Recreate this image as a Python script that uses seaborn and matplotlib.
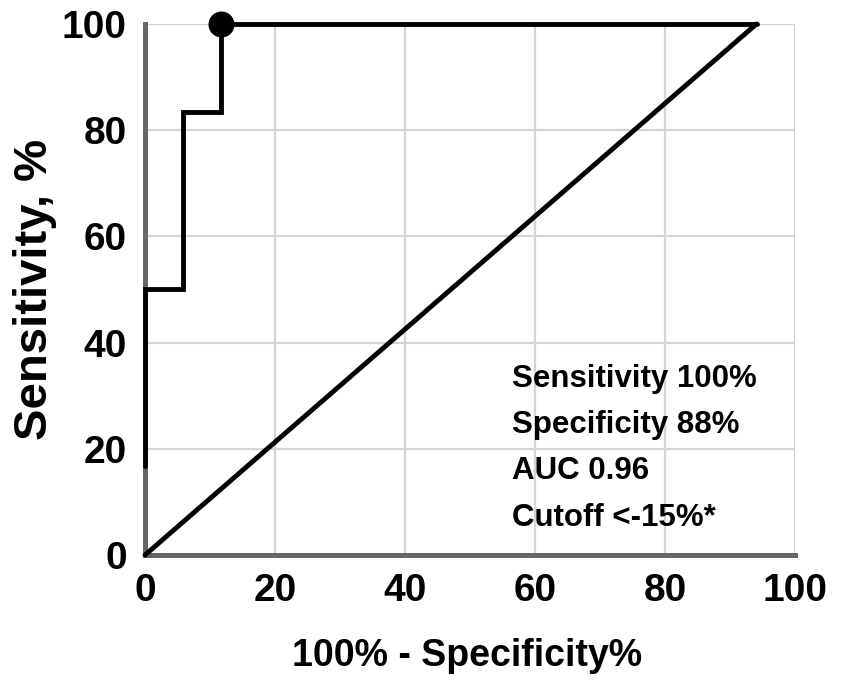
import matplotlib
matplotlib.use("Agg")
import matplotlib.pyplot as plt
import seaborn as sns
import pandas as pd

# ROC step curve (100% - specificity, sensitivity)
fpr = [0, 0, 0, 5.88, 5.88, 11.76, 11.76, 94.1]
tpr = [16.67, 33.33, 50, 50, 83.33, 83.33, 100, 100]

# reference (chance) line
ref_x = [0, 94.1]
ref_y = [0, 100]

# optimal cutoff point
cut_x = [11.76]
cut_y = [100]

stats_lines = ["Sensitivity 100%", "Specificity 88%", "AUC 0.96", "Cutoff <-15%*"]
ticks = [0, 20, 40, 60, 80, 100]

sns.set_theme(style="white")
plt.rcParams.update({
    "text.color": "black",
    "axes.labelcolor": "black",
    "xtick.labelcolor": "black",
    "ytick.labelcolor": "black",
})
font = ["Liberation Sans", "DejaVu Sans"]

fig = plt.figure(figsize=(8.44, 6.8), dpi=100)
ax = fig.add_axes([0.1718, 0.1838, 0.770, 0.781])

roc = pd.DataFrame({"fpr": fpr, "tpr": tpr})
ref = pd.DataFrame({"x": ref_x, "y": ref_y})
sns.lineplot(data=ref, x="x", y="y", ax=ax, color="black", lw=3.5,
             sort=False, estimator=None, zorder=4)
sns.lineplot(data=roc, x="fpr", y="tpr", ax=ax, color="black", lw=3.5,
             sort=False, estimator=None, zorder=5)
ax.lines[-1].set_solid_joinstyle("miter")
sns.scatterplot(x=cut_x, y=cut_y, ax=ax, color="black", s=300,
                edgecolor="black", zorder=6, clip_on=False)

ax.set_xlim(0, 100)
ax.set_ylim(0, 100)
ax.set_xticks(ticks)
ax.set_yticks(ticks)
ax.grid(True, color="#d4d4d4", lw=1.6, zorder=0)
ax.set_axisbelow(True)

for s in ["top", "right"]:
    ax.spines[s].set_visible(False)
for s in ["left", "bottom"]:
    ax.spines[s].set_color("#666666")
    ax.spines[s].set_linewidth(3.6)
    ax.spines[s].set_zorder(3)

ax.tick_params(axis="both", direction="out", length=9, width=3.6,
               color="#666666", pad=4)
for lab in ax.get_xticklabels() + ax.get_yticklabels():
    lab.set_family(font)
    lab.set_fontweight("bold")
    lab.set_fontsize(28)
for ln in ax.get_lines():
    ln.set_clip_on(False)

ax.set_xlabel("100% - Specificity%", family=font, fontweight="bold",
              fontsize=27)
ax.xaxis.set_label_coords(0.495, -0.19)
ax.xaxis.label.set_va("center")
ax.set_ylabel("Sensitivity, %", family=font, fontweight="bold", fontsize=34)
ax.yaxis.set_label_coords(-0.17, 0.50)
ax.yaxis.label.set_va("center")

ax.text(56.5, 36.0, "\n".join(stats_lines), family=font, fontweight="bold",
        fontsize=22.5, va="top", ha="left", linespacing=1.71, zorder=7)

fig.savefig("out.png", dpi=100, facecolor="white")
